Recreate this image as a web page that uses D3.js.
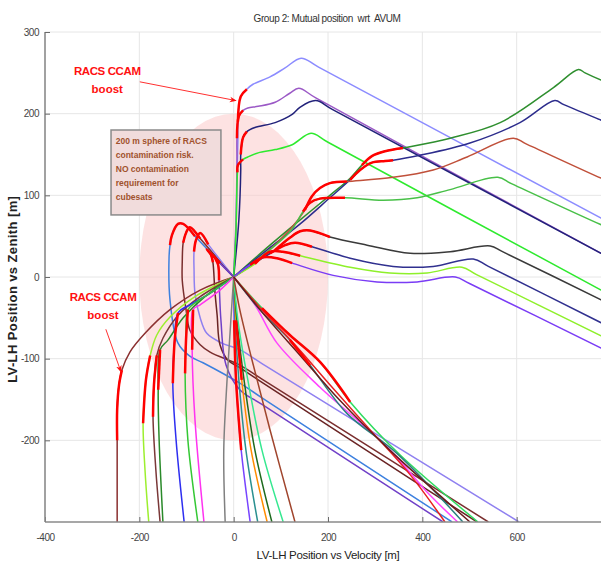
<!DOCTYPE html>
<html>
<head>
<meta charset="utf-8">
<script src="https://cdn.jsdelivr.net/npm/d3@7"></script>
<style>
  body { margin: 0; background: #fff; }
  svg { display: block; font-family: "Liberation Sans", Arial, sans-serif; }
</style>
</head>
<body>
<div id="chart"></div>
<script>
const xTicks = [-400, -200, 0, 200, 400, 600];
const yTicks = [-200, -100, 0, 100, 200, 300];
const sphereRadius = 200;

// trajectories, [velocity m, zenith m]
const zenithLightBlue = [[0,0],[5,58],[7,119],[9,168],[9,190],[15,221],[28,230],[41,236],[77,245],[109,256],[143,268],[180,257],[779,72],[800,66]];
const zenithPurple = [[0,0],[5,70],[7,143],[7,170],[11,197],[20,204],[30,207],[52,209],[88,214],[119,225],[138,231],[175,219],[779,29],[800,23]];
const zenithNavy = [[0,0],[11,70],[15,131],[15,150],[20,171],[28,178],[45,183],[88,189],[124,199],[141,208],[174,216],[210,205],[779,29],[800,23]];
const zenithGreen = [[0,0],[5,58],[7,113],[8,128],[9,137],[20,144],[30,147],[52,152],[88,156],[124,162],[164,176],[200,165],[779,-16],[800,-22]];

const rightDarkGreen = [[0,0],[77,39],[141,70],[204,100],[247,121],[272,137],[293,148],[321,154],[359,158],[459,170],[565,189],[678,232],[731,254],[745,250],[779,241],[800,236]];
const rightNavy = [[0,0],[77,36],[141,65],[204,97],[247,119],[268,131],[293,140],[321,142],[338,143],[395,149],[501,164],[607,189],[681,216],[700,211],[779,192],[800,187]];
const rightBrick = [[0,0],[56,23],[119,58],[151,82],[166,99],[183,109],[204,115],[240,117],[338,122],[423,131],[495,147],[593,170],[620,163],[779,121],[800,116]];
const rightGreen = [[0,0],[56,24],[119,55],[147,80],[162,91],[183,96],[236,97],[317,94],[389,97],[459,107],[560,122],[590,114],[779,64],[800,59]];

const lowBlack = [[0,0],[45,18],[88,33],[119,48],[141,56],[162,57],[204,49],[283,39],[374,29],[459,31],[544,38],[570,31],[779,-28],[800,-34]];
const lowNavy = [[0,0],[45,17],[77,29],[109,39],[130,42],[166,37],[247,23],[338,13],[423,13],[508,22],[540,13],[779,-56],[800,-62]];
const lowLime = [[0,0],[45,16],[77,31],[104,31],[141,26],[247,12],[331,5],[410,5],[484,12],[515,3],[779,-72],[800,-78]];
const lowViolet = [[0,0],[35,15],[62,24],[92,23],[124,17],[211,2],[304,-6],[389,-6],[470,0],[500,-8],[779,-87],[800,-93]];

const peakBlue = [[0,0],[-82,50],[-107,65],[-118,65],[-131,51],[-135,39],[-137,24],[-135,-28],[-118,-81],[-93,-97],[-65,-105],[13,-130],[60,-148],[463,-300]];
const peakBrown = [[0,0],[-71,47],[-93,61],[-101,54],[-107,42],[-109,18],[-109,-4],[-101,-40],[-93,-65],[-71,-83],[-50,-92],[13,-108],[60,-125],[540,-300]];
const peakLavender = [[0,0],[-54,40],[-71,54],[-80,45],[-84,31],[-84,9],[-82,-20],[-71,-50],[-57,-69],[-25,-81],[13,-89],[60,-106],[605,-300]];
const peakMaroon = [[0,0],[-40,24],[-57,34],[-48,27],[-44,18],[-40,-16],[-35,-47],[-29,-83],[-12,-102],[13,-111],[60,-129],[516,-300]];
const peakPurple = [[0,0],[-29,17],[-40,24],[-33,15],[-31,-4],[-27,-53],[-16,-108],[13,-138],[60,-156],[444,-300]];

const fanBrown = [[0,0],[-71,-16],[-135,-40],[-188,-69],[-220,-92],[-237,-114],[-243,-132],[-247,-162],[-247,-200],[-247,-249],[-247,-300]];
const fanLime = [[0,0],[-82,-24],[-135,-49],[-163,-71],[-177,-96],[-186,-126],[-192,-179],[-188,-236],[-180,-300]];
const fanBrown2 = [[0,0],[-71,-24],[-118,-47],[-150,-75],[-163,-96],[-169,-132],[-171,-171],[-165,-236],[-156,-300]];
const fanGreen = [[0,0],[-61,-24],[-107,-50],[-139,-77],[-156,-89],[-160,-138],[-158,-200],[-150,-300]];
const fanBlue = [[0,0],[-50,-20],[-93,-34],[-118,-44],[-125,-77],[-129,-130],[-122,-200],[-105,-300]];
const fanLightGreen = [[0,0],[-40,-16],[-80,-31],[-97,-40],[-101,-77],[-103,-118],[-97,-200],[-76,-300]];
const fanMagenta = [[0,0],[-29,-16],[-71,-34],[-86,-40],[-88,-89],[-82,-175],[-63,-300]];

const dropGray = [[0,0],[-6,-53],[-14,-126],[-21,-212],[-18,-300]];
const dropViolet = [[0,0],[1,-53],[5,-126],[16,-212],[35,-300]];
const dropTeal = [[0,0],[3,-53],[11,-126],[26,-212],[51,-300]];
const dropOrange = [[0,0],[5,-53],[17,-126],[37,-212],[71,-300]];
const dropDarkGreen = [[0,0],[7,-53],[22,-126],[45,-212],[81,-300]];
const dropSpring = [[0,0],[9,-53],[30,-126],[60,-212],[105,-300]];
const dropBrown = [[0,0],[13,-40],[39,-102],[77,-187],[130,-300]];

const sweepMagenta = [[0,0],[45,-34],[92,-81],[183,-135],[325,-208],[416,-267],[475,-300]];
const sweepGreen = [[0,0],[60,-38],[119,-71],[183,-104],[247,-153],[353,-218],[518,-300]];
const sweepTeal = [[0,0],[60,-43],[119,-77],[162,-108],[240,-167],[346,-216],[486,-300]];
const sweepRed = [[0,0],[60,-40],[130,-83],[204,-132],[289,-187],[374,-242],[448,-300]];
const sweepMaroon = [[0,0],[66,-47],[141,-96],[225,-151],[331,-212],[501,-300]];

const tracks = [
  zenithLightBlue, zenithPurple, zenithNavy, zenithGreen,
  rightDarkGreen, rightNavy, rightBrick, rightGreen,
  lowBlack, lowNavy, lowLime, lowViolet,
  peakBlue, peakBrown, peakLavender, peakMaroon, peakPurple,
  fanBrown, fanLime, fanBrown2, fanGreen, fanBlue, fanLightGreen, fanMagenta,
  dropGray, dropViolet, dropTeal, dropOrange, dropDarkGreen, dropSpring, dropBrown,
  sweepMagenta, sweepGreen, sweepTeal, sweepRed, sweepMaroon
];
const trackColors = [
  "#8c8cff", "#9b59c6", "#22227a", "#2eea2e",
  "#2f8f2f", "#2c2c8c", "#c0503a", "#48c048",
  "#3a3a3a", "#30308f", "#8ef02a", "#7a3cf5",
  "#3d80df", "#7a2e2e", "#8f80f0", "#6a2424", "#7040c8",
  "#8b3030", "#9cef2e", "#7a3838", "#2a8a2a", "#2e2ef0", "#35c835", "#ff33f0",
  "#808080", "#7744ff", "#2a9090", "#ff8c00", "#1e6a1e", "#36e890", "#a0452d",
  "#ff44ff", "#30dd60", "#2a7f7f", "#e82020", "#6a1c1c"
];
// index range of each track flown during the CCAM boost
const boostRanges = [
  [4,6], [3,5], [3,5], [3,5],
  [5,8], [4,8], [3,7], [3,6],
  [2,6], [2,5], [1,4], [1,4],
  [1,5], [1,4], [1,4], [1,4], [1,4],
  [5,8], [4,6], [4,6], [4,5], [3,5], [3,5], [3,4],
  null, [1,3], null, [1,2], null, null, null,
  null, [1,4], [2,3], null, null
];

const boxLines = ["200 m sphere of RACS", "contamination risk.", "NO contamination", "requirement for", "cubesats"];

const width = 601, height = 565;

const x = d3.scaleLinear().domain([-400, 800]).range([45, 611]);
const y = d3.scaleLinear().domain([-300, 300]).range([522, 32]);

const svg = d3.select("#chart").append("svg")
  .attr("width", width)
  .attr("height", height);

svg.append("defs").append("clipPath").attr("id", "plot-clip")
  .append("rect")
  .attr("x", x(-400)).attr("y", y(300))
  .attr("width", x(800) - x(-400)).attr("height", y(-300) - y(300));

svg.append("defs").append("marker")
  .attr("id", "arrow")
  .attr("viewBox", "0 0 10 10")
  .attr("refX", 9).attr("refY", 5)
  .attr("markerWidth", 7).attr("markerHeight", 7)
  .attr("orient", "auto")
  .append("path")
  .attr("d", "M0,1 L10,5 L0,9 L3,5 Z")
  .attr("fill", "#ff1010");

// grid
const grid = svg.append("g").attr("stroke", "#e6e6e6").attr("stroke-width", 1);
grid.selectAll(".vgrid").data(xTicks.filter(d => d > -400)).enter().append("line")
  .attr("x1", d => x(d)).attr("x2", d => x(d))
  .attr("y1", y(300)).attr("y2", y(-300));
grid.selectAll(".hgrid").data(yTicks).enter().append("line")
  .attr("x1", x(-400)).attr("x2", width)
  .attr("y1", d => y(d)).attr("y2", d => y(d));

const plot = svg.append("g").attr("clip-path", "url(#plot-clip)");

// contamination sphere
plot.append("ellipse")
  .attr("cx", x(0)).attr("cy", y(0))
  .attr("rx", x(sphereRadius) - x(0))
  .attr("ry", y(0) - y(sphereRadius))
  .attr("fill", "#fbcaca")
  .attr("opacity", 0.55);

const line = d3.line()
  .x(d => x(d[0]))
  .y(d => y(d[1]))
  .curve(d3.curveCatmullRom.alpha(0.5));

plot.selectAll(".track")
  .data(tracks)
  .enter()
  .append("path")
  .attr("class", "track")
  .attr("d", line)
  .attr("fill", "none")
  .attr("stroke", (d, i) => trackColors[i])
  .attr("stroke-width", 1.5)
  .attr("stroke-linejoin", "round");

plot.selectAll(".boost")
  .data(tracks.map((t, i) => boostRanges[i] ? t.slice(boostRanges[i][0], boostRanges[i][1] + 1) : null).filter(d => d))
  .enter()
  .append("path")
  .attr("class", "boost")
  .attr("d", line)
  .attr("fill", "none")
  .attr("stroke", "#ff0000")
  .attr("stroke-width", 2.5)
  .attr("stroke-linejoin", "round");

// axes
const xAxis = svg.append("g")
  .attr("transform", `translate(0, ${y(-300)})`)
  .call(d3.axisBottom(x).tickValues(xTicks).tickSizeInner(-5).tickSizeOuter(0).tickPadding(12).tickFormat(d => String(d)));
xAxis.select(".domain").attr("stroke", "#8a8a8a").attr("stroke-width", 1.6).attr("d", `M${x(-400)},0H${width}`);

const yAxis = svg.append("g")
  .attr("transform", `translate(${x(-400)}, 0)`)
  .call(d3.axisLeft(y).tickValues(yTicks).tickSizeInner(-5).tickSizeOuter(0).tickPadding(6).tickFormat(d => String(d)));
yAxis.select(".domain").attr("stroke", "#8a8a8a").attr("stroke-width", 1.6).attr("d", `M0,${y(300)}V${y(-300)}`);

[xAxis, yAxis].forEach(a => {
  a.selectAll(".tick line").attr("stroke", "#6a6a6a");
  a.selectAll(".tick text")
    .attr("fill", "#444")
    .style("font-size", "10px")
    .style("letter-spacing", "-0.5px");
});

// titles
svg.append("text")
  .attr("x", 327).attr("y", 22)
  .attr("text-anchor", "middle")
  .attr("fill", "#333")
  .style("font-size", "10px")
  .style("letter-spacing", "-0.4px")
  .style("white-space", "pre")
  .text("Group 2: Mutual position  wrt  AVUM");

svg.append("text")
  .attr("x", 328).attr("y", 559)
  .attr("text-anchor", "middle")
  .attr("fill", "#222")
  .style("font-size", "11.5px")
  .style("letter-spacing", "-0.3px")
  .text("LV-LH Position vs Velocity [m]");

svg.append("text")
  .attr("transform", `translate(17, ${y(-15)}) rotate(-90)`)
  .attr("text-anchor", "middle")
  .attr("fill", "#222")
  .style("font-size", "13px")
  .style("font-weight", "bold")
  .style("letter-spacing", "0.4px")
  .text("LV-LH Position vs Zenith [m]");

// annotation box
const box = svg.append("g");
box.append("rect")
  .attr("x", x(-260)).attr("y", y(180))
  .attr("width", x(-27) - x(-260))
  .attr("height", y(76) - y(180))
  .attr("fill", "#f1dcdc")
  .attr("stroke", "#8a8a8a")
  .attr("stroke-width", 1.5);
box.selectAll("text")
  .data(boxLines)
  .enter()
  .append("text")
  .attr("x", x(-250))
  .attr("y", (d, i) => y(180) + 14 + i * 14)
  .attr("fill", "#a0522d")
  .style("font-size", "8.5px")
  .style("font-weight", "bold")
  .text(d => d);

// CCAM boost call-outs
const callouts = [
  { text: [-268, 247], from: [-199, 239], to: [5, 216] },
  { text: [-277, -29], from: [-271, -64], to: [-239, -116] }
];
callouts.forEach(c => {
  svg.append("text")
    .attr("x", x(c.text[0])).attr("y", y(c.text[1]))
    .attr("text-anchor", "middle")
    .attr("fill", "#ff1010")
    .style("font-size", "11.5px")
    .style("font-weight", "bold")
    .style("letter-spacing", "-0.4px")
    .text("RACS CCAM");
  svg.append("text")
    .attr("x", x(c.text[0])).attr("y", y(c.text[1]) + 18)
    .attr("text-anchor", "middle")
    .attr("fill", "#ff1010")
    .style("font-size", "11.5px")
    .style("font-weight", "bold")
    .text("boost");
  svg.append("line")
    .attr("x1", x(c.from[0])).attr("y1", y(c.from[1]))
    .attr("x2", x(c.to[0])).attr("y2", y(c.to[1]))
    .attr("stroke", "#ff3030")
    .attr("stroke-width", 1)
    .attr("marker-end", "url(#arrow)");
});
</script>
</body>
</html>
